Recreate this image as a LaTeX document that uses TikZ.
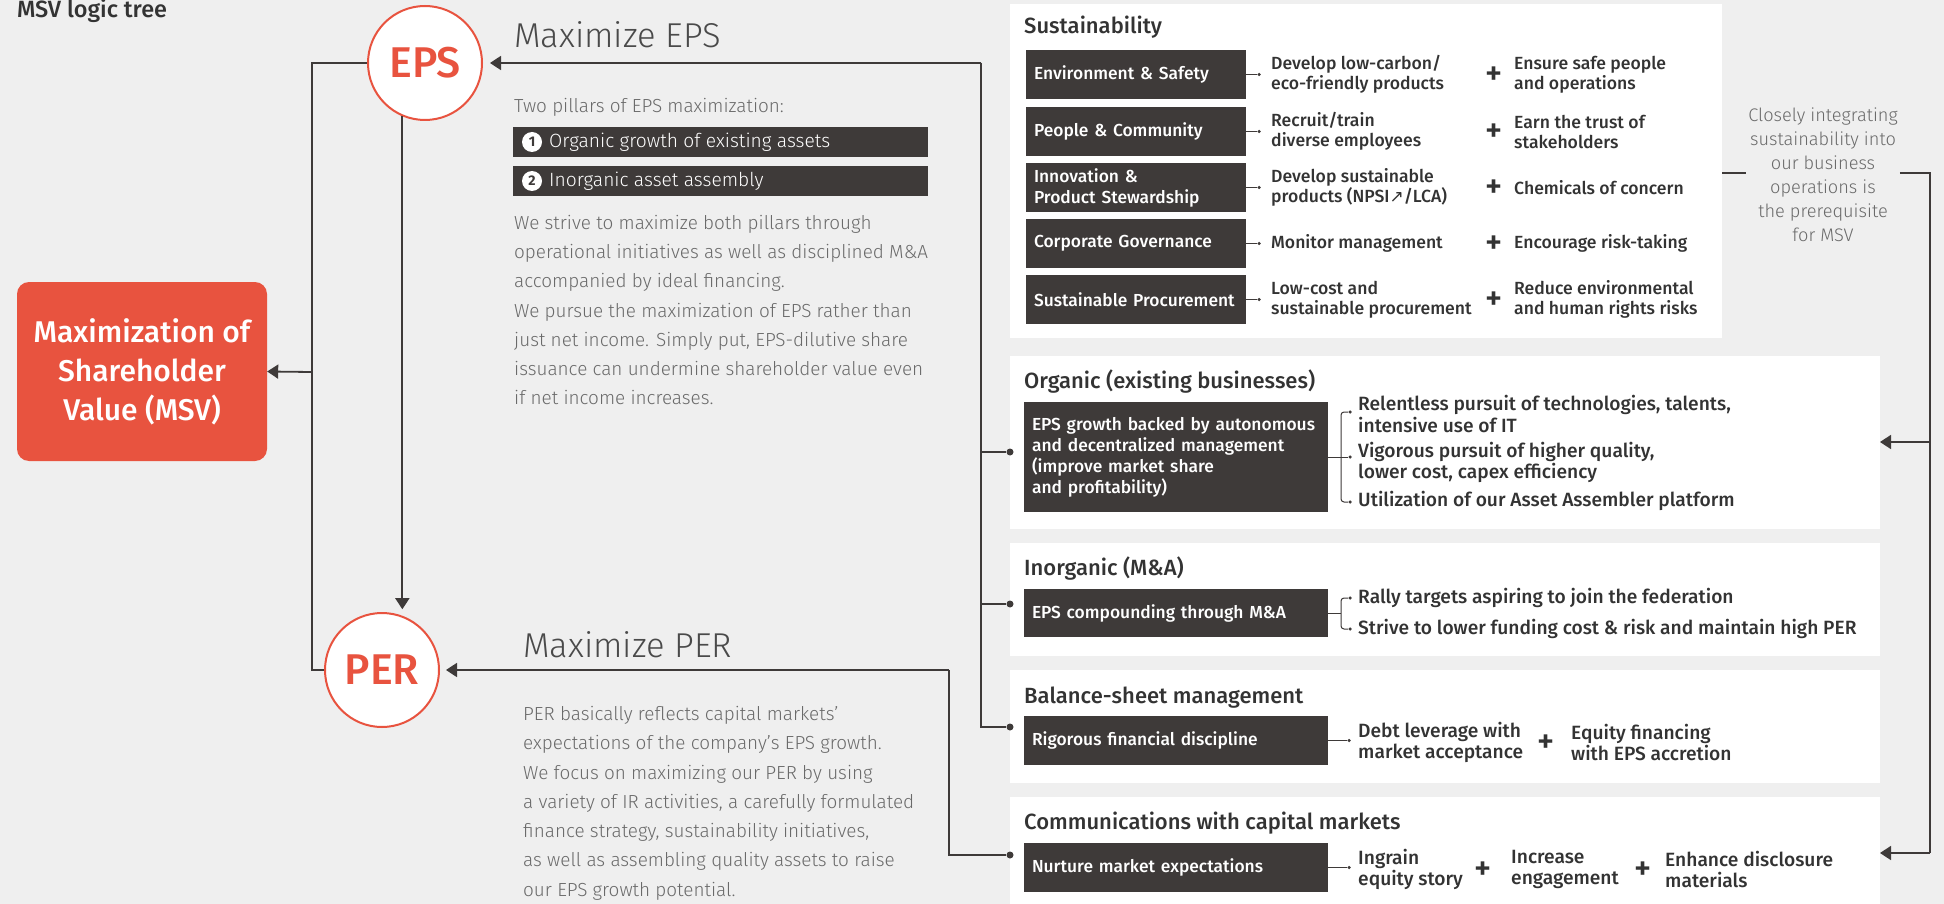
\documentclass[tikz,border=0pt]{standalone}
\usepackage{fontspec}
\setmainfont{Fira Sans}
\newfontfamily\Lt{Fira Sans Light}
\newfontfamily\Md{Fira Sans Medium}
\newfontfamily\symf{DejaVu Sans}
\usetikzlibrary{arrows.meta}
\definecolor{bg}{HTML}{EFEFEF}
\definecolor{ink}{HTML}{3E3A39}
\definecolor{accent}{HTML}{E8533F}
\definecolor{txt}{HTML}{333333}
\definecolor{txttwo}{HTML}{4A4A4A}
\definecolor{soft}{HTML}{6A6A6A}
\begin{document}
\begin{tikzpicture}[x=1pt,y=-1pt,
  line/.style={draw=ink,line width=1.8pt},
  arr/.style={line,-{Triangle[length=11pt,width=14pt]}},
  thin/.style={draw=ink,line width=1pt},
  panel/.style={fill=white,inner sep=0pt,outer sep=0pt,anchor=north west},
  dbox/.style={fill=ink,text=white,inner xsep=8pt,inner ysep=0pt,outer sep=0pt,align=left,anchor=north west,font=\Md\fontsize{17.4}{21}\selectfont},
  ctext/.style={text=txt,inner sep=0pt,align=left,anchor=west,font=\Md\fontsize{17.6}{20}\selectfont},
  itext/.style={ctext,font=\Md\fontsize{19.2}{21.5}\selectfont},
  plus/.style={text=txt,inner sep=0pt,font=\Md\fontsize{33}{33}\selectfont},
  ptitle/.style={text=txt,inner sep=0pt,anchor=base west,font=\Md\fontsize{22}{24}\selectfont},
  para/.style={text=soft,inner sep=0pt,align=left,anchor=north west,font=\Lt\fontsize{18.9}{29.3}\selectfont},
  big/.style={text=txttwo,inner sep=0pt,anchor=base west,font=\Lt\fontsize{34.5}{36}\selectfont},
  ring/.style={circle,draw=accent,line width=2pt,fill=white,minimum size=114pt,inner sep=0pt,text=accent,font=\Md\fontsize{43}{43}\selectfont},
  dot/.style={circle,fill=ink,inner sep=0pt,minimum size=7pt},
  tdot/.style={circle,fill=ink,inner sep=0pt,minimum size=3.5pt},
  bar/.style={fill=ink,inner sep=0pt,outer sep=0pt,anchor=north west,minimum width=415pt,minimum height=30pt},
  numc/.style={circle,fill=white,inner sep=0pt,minimum size=20pt,text=ink,font=\bfseries\fontsize{14}{14}\selectfont},
  bartext/.style={text=white,inner sep=0pt,anchor=west,font=\Lt\fontsize{19.2}{22}\selectfont},
]
% canvas
\fill[bg] (0,0) rectangle (1944,904);
\useasboundingbox (0,0) rectangle (1944,904);

% heading
\node[text=txt,inner sep=0pt,anchor=base west,font=\Md\fontsize{23.5}{25}\selectfont] (title) at (17,18) {MSV logic tree};

% goal and the two drivers
\node[fill=accent,rounded corners=12pt,minimum width=250pt,minimum height=179pt,inner sep=0pt,
      text=white,align=center,font=\Md\fontsize{30}{39}\selectfont] (msv) at (142,371.5)
      {Maximization of\\Shareholder\\Value (MSV)};
\node[ring] (eps) at (425,63) {EPS};
\node[ring] (per) at (382,670) {PER};

\coordinate (jL) at (312,372);
\draw[line] (eps.west) -| (jL);
\draw[line] (per.west) -| (jL);
\draw[arr] (jL) -- (msv.east);
\draw[arr,shorten >=7pt] (eps.247) -- (eps.247 |- per.68);

% EPS explanation
\node[big] (maxeps) at (514,48) {Maximize EPS};
\node[para,anchor=west] (pillars) at (514,107) {Two pillars of EPS maximization:};
\node[bar] (bar1) at (513,127) {};
\node[bar] (bar2) at (513,166) {};
\node[numc] (n1) at (532,142) {1};
\node[numc] (n2) at (532,181) {2};
\node[bartext] (b1) at (549,142) {Organic growth of existing assets};
\node[bartext] (b2) at (549,181) {Inorganic asset assembly};
\node[para] (epsp) at (514,214.7) {We strive to maximize both pillars through\\
operational initiatives as well as disciplined M\&A\\
accompanied by ideal financing.\\
We pursue the maximization of EPS rather than\\
just net income. Simply put, EPS-dilutive share\\
issuance can undermine shareholder value even\\
if net income increases.};

% PER explanation
\node[big] (maxper) at (523,657) {Maximize PER};
\node[para] (perp) at (523,706) {PER basically reflects capital markets’\\
expectations of the company’s EPS growth.\\
We focus on maximizing our PER by using\\
a variety of IR activities, a carefully formulated\\
finance strategy, sustainability initiatives,\\
as well as assembling quality assets to raise\\
our EPS growth potential.};

% panels
\node[panel,minimum width=712pt,minimum height=334pt] (sust) at (1010,4) {};
\node[panel,minimum width=870pt,minimum height=173pt] (org) at (1010,356) {};
\node[panel,minimum width=870pt,minimum height=113pt] (ino) at (1010,543) {};
\node[panel,minimum width=870pt,minimum height=113pt] (bal) at (1010,670) {};
\node[panel,minimum width=870pt,minimum height=107pt] (com) at (1010,797) {};

% Sustainability
\node[ptitle] (sustT) at (1024,34) {Sustainability};
\node[dbox,text width=204pt,minimum height=49pt] (s1) at (1026,50) {Environment \& Safety};
\node[dbox,text width=204pt,minimum height=49pt] (s2) at (1026,107) {People \& Community};
\node[dbox,text width=204pt,minimum height=49pt] (s3) at (1026,163) {Innovation \&\\Product Stewardship};
\node[dbox,text width=204pt,minimum height=49pt] (s4) at (1026,219) {Corporate Governance};
\node[dbox,text width=204pt,minimum height=49pt] (s5) at (1026,275) {Sustainable Procurement};
\foreach \r in {1,...,5}{
  \node[tdot] (s\r d) at (s\r.east -| 1259,0) {};
  \draw[thin] (s\r.east) -- (s\r d);
}
\node[ctext] (s1a) at (1271,74.5) {Develop low-carbon/\\eco-friendly products};
\node[ctext] (s2a) at (1271,131.5) {Recruit/train\\diverse employees};
\node[ctext] (s3a) at (1271,187.5) {Develop sustainable\\products (NPSI{\symf\fontsize{17}{17}\selectfont ↗}/LCA)};
\node[ctext] (s4a) at (1271,243.5) {Monitor management};
\node[ctext] (s5a) at (1271,299.5) {Low-cost and\\sustainable procurement};
\node[plus] (s1p) at (1494,76) {+};
\node[plus] (s2p) at (1494,133) {+};
\node[plus] (s3p) at (1494,189) {+};
\node[plus] (s4p) at (1494,245) {+};
\node[plus] (s5p) at (1494,301) {+};
\node[ctext] (s1b) at (1514,74.5) {Ensure safe people\\and operations};
\node[ctext] (s2b) at (1514,131.5) {Earn the trust of\\stakeholders};
\node[ctext] (s3b) at (1514,187.5) {Chemicals of concern};
\node[ctext] (s4b) at (1514,243.5) {Encourage risk-taking};
\node[ctext] (s5b) at (1514,299.5) {Reduce environmental\\and human rights risks};

\node[text=soft,inner sep=2pt,align=center,font=\Lt\fontsize{18.2}{24}\selectfont] (close) at (1823,175)
  {Closely integrating\\sustainability into\\our business\\operations is\\the prerequisite\\for MSV};

% Organic
\node[ptitle] (orgT) at (1024,388) {Organic (existing businesses)};
\node[dbox,text width=288pt,minimum height=110pt] (orgD) at (1024,402)
  {EPS growth backed by autonomous\\and decentralized management\\(improve market share\\and profitability)};
\node[tdot] (o1d) at (1350,412) {};
\node[tdot] (o2d) at (1350,457) {};
\node[tdot] (o3d) at (1350,502) {};
\draw[thin] (orgD.east) -- (o2d);
\draw[thin,rounded corners=3pt] (o1d) -- (1341,412) -- (1341,502) -- (o3d);
\node[itext] (o1) at (1358,414) {Relentless pursuit of technologies, talents,\\intensive use of IT};
\node[itext] (o2) at (1358,462.5) {Vigorous pursuit of higher quality,\\lower cost, capex efficiency};
\node[itext] (o3) at (1358,501) {Utilization of our Asset Assembler platform};

% Inorganic
\node[ptitle] (inoT) at (1024,575) {Inorganic (M\&A)};
\node[dbox,text width=288pt,minimum height=48pt] (inoD) at (1024,589) {EPS compounding through M\&A};
\node[tdot] (i1d) at (1350,598) {};
\node[tdot] (i2d) at (1350,629) {};
\draw[thin] (inoD.east) -- (1341,613);
\draw[thin,rounded corners=3pt] (i1d) -- (1341,598) -- (1341,629) -- (i2d);
\node[itext] (i1) at (1358,598) {Rally targets aspiring to join the federation};
\node[itext] (i2) at (1358,629) {Strive to lower funding cost \& risk and maintain high PER};

% Balance sheet
\node[ptitle] (balT) at (1024,703) {Balance-sheet management};
\node[dbox,text width=288pt,minimum height=49pt] (balD) at (1024,716) {Rigorous financial discipline};
\node[tdot] (bd) at (1349,740.5) {};
\draw[thin] (balD.east) -- (bd);
\node[itext] (b1t) at (1358,742.5) {Debt leverage with\\market acceptance};
\node[plus] (bp) at (1546,744) {+};
\node[itext] (b2t) at (1571,742.5) {Equity financing\\with EPS accretion};

% Communications
\node[ptitle] (comT) at (1024,829) {Communications with capital markets};
\node[dbox,text width=288pt,minimum height=49pt] (comD) at (1024,843) {Nurture market expectations};
\node[tdot] (cd) at (1349,867.5) {};
\draw[thin] (comD.east) -- (cd);
\node[itext] (c1) at (1358,869.5) {Ingrain\\equity story};
\node[plus] (cp1) at (1483,871) {+};
\node[itext] (c2) at (1511,869.5) {Increase\\engagement};
\node[plus] (cp2) at (1643,871) {+};
\node[itext] (c3) at (1665,869.5) {Enhance disclosure\\materials};

% EPS bus
\node[dot] (dOrg) at (1010,452) {};
\node[dot] (dIno) at (1010,604) {};
\node[dot] (dBal) at (1010,727) {};
\node[dot] (dCom) at (1010,855) {};
\coordinate (busTop) at (981,63);
\draw[arr,shorten >=7pt] (busTop) -- (eps.east);
\draw[line] (busTop) |- (dOrg);
\draw[line] (busTop) |- (dIno);
\draw[line] (busTop) |- (dBal);

% PER bus
\coordinate (perTurn) at (949,670);
\draw[arr,shorten >=6pt] (perTurn) -- (per.east);
\draw[line] (perTurn) |- (dCom);

% sustainability feeds the operating panels
\coordinate (rTop) at (1930,173);
\coordinate (rOrg) at (1930,442);
\coordinate (rCom) at (1930,853);
\draw[line] (sust.east |- rTop) -- (close.west |- rTop);
\draw[line] (close.east |- rTop) -- (rTop) -- (rCom);
\draw[arr] (rOrg) -- (org.east |- rOrg);
\draw[arr] (rCom) -- (com.east |- rCom);
\end{tikzpicture}
\end{document}
